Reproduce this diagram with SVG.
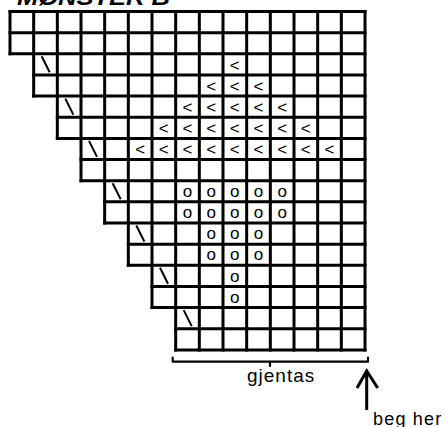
<svg xmlns="http://www.w3.org/2000/svg" width="445" height="427" viewBox="0 0 445 427">
<style>
.grid{stroke:#000;stroke-width:3;fill:none;stroke-linecap:square}
.bs{stroke:#000;stroke-width:2;fill:none}
.sym{font-family:"Liberation Sans",Arial,sans-serif;font-size:17px;fill:#000;text-anchor:middle}
.lbl{font-family:"Liberation Sans",Arial,sans-serif;fill:#000}
.conn{stroke:#000;fill:none}
</style>
<rect width="445" height="427" fill="#fff"/>
<text id="title" class="lbl" x="17" y="4.5" font-size="22" font-weight="bold" font-style="italic" textLength="153" lengthAdjust="spacingAndGlyphs">MØNSTER B</text>
<g id="grid">
<path class="grid" d="M10,11.5H365 M10,32.65H365 M10,53.8H365 M33.67,74.95H365 M33.67,96.1H365 M57.33,117.25H365 M57.33,138.4H365 M81,159.55H365 M81,180.7H365 M104.67,201.85H365 M104.67,223H365 M128.33,244.15H365 M128.33,265.3H365 M152,286.45H365 M152,307.6H365 M175.67,328.75H365 M175.67,349.9H365"/>
<path class="grid" d="M10,11.5V53.8 M33.67,11.5V96.1 M57.33,11.5V138.4 M81,11.5V180.7 M104.67,11.5V223 M128.33,11.5V265.3 M152,11.5V307.6 M175.67,11.5V349.9 M199.33,11.5V349.9 M223,11.5V349.9 M246.67,11.5V349.9 M270.33,11.5V349.9 M294,11.5V349.9 M317.67,11.5V349.9 M341.33,11.5V349.9 M365,11.5V349.9"/>
</g>
<g id="decreases">
<path class="bs" d="M41.67,56.3L49.67,72.3 M65.33,98.6L73.33,114.6 M89,140.9L97,156.9 M112.67,183.2L120.67,199.2 M136.33,225.5L144.33,241.5 M160,267.8L168,283.8 M183.67,310.1L191.67,326.1"/>
</g>
<g id="lt-symbols" class="sym">
<text x="234.83" y="70.8">&lt;</text>
<text x="211.17" y="91.95">&lt;</text><text x="234.83" y="91.95">&lt;</text><text x="258.5" y="91.95">&lt;</text>
<text x="187.5" y="113.1">&lt;</text><text x="211.17" y="113.1">&lt;</text><text x="234.83" y="113.1">&lt;</text><text x="258.5" y="113.1">&lt;</text><text x="282.17" y="113.1">&lt;</text>
<text x="163.83" y="134.25">&lt;</text><text x="187.5" y="134.25">&lt;</text><text x="211.17" y="134.25">&lt;</text><text x="234.83" y="134.25">&lt;</text><text x="258.5" y="134.25">&lt;</text><text x="282.17" y="134.25">&lt;</text><text x="305.83" y="134.25">&lt;</text>
<text x="140.17" y="155.4">&lt;</text><text x="163.83" y="155.4">&lt;</text><text x="187.5" y="155.4">&lt;</text><text x="211.17" y="155.4">&lt;</text><text x="234.83" y="155.4">&lt;</text><text x="258.5" y="155.4">&lt;</text><text x="282.17" y="155.4">&lt;</text><text x="305.83" y="155.4">&lt;</text><text x="329.5" y="155.4">&lt;</text>
</g>
<g id="o-symbols" class="sym">
<text x="187.5" y="197">o</text><text x="211.17" y="197">o</text><text x="234.83" y="197">o</text><text x="258.5" y="197">o</text><text x="282.17" y="197">o</text>
<text x="187.5" y="218.15">o</text><text x="211.17" y="218.15">o</text><text x="234.83" y="218.15">o</text><text x="258.5" y="218.15">o</text><text x="282.17" y="218.15">o</text>
<text x="211.17" y="239.3">o</text><text x="234.83" y="239.3">o</text><text x="258.5" y="239.3">o</text>
<text x="211.17" y="260.45">o</text><text x="234.83" y="260.45">o</text><text x="258.5" y="260.45">o</text>
<text x="234.83" y="281.6">o</text>
<text x="234.83" y="302.75">o</text>
</g>
<g id="connectors">
<path class="conn" stroke-width="2.2" stroke-linecap="round" stroke-linejoin="round" d="M172.7,357.5V361.7H368V357.5 M270,361.7V366"/>
<path class="conn" stroke-width="3" d="M366.7,410V371 M357,388L366.7,371L377.7,388"/>
</g>
<g id="label-gjentas"><text class="lbl" x="247" y="382" font-size="19" letter-spacing="1">gjentas</text></g>
<g id="label-begher"><text class="lbl" x="373" y="425" font-size="18" letter-spacing="1.2">beg her</text></g>
</svg>
